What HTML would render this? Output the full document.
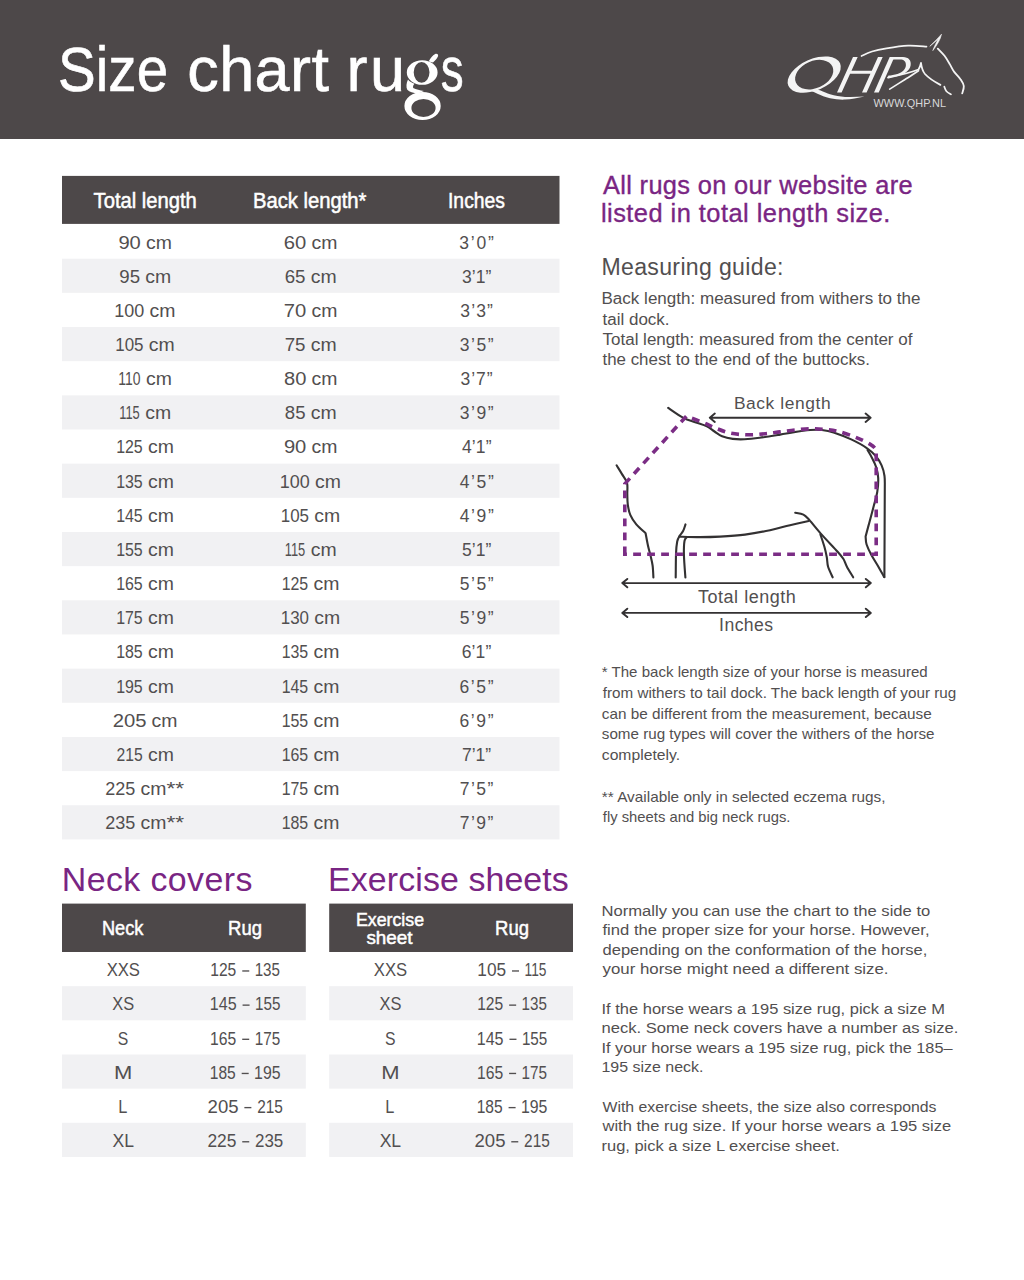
<!DOCTYPE html>
<html><head><meta charset="utf-8"><title>Size chart rugs</title>
<style>
html,body{margin:0;padding:0;background:#fff;}
body{width:1024px;height:1280px;overflow:hidden;font-family:"Liberation Sans", sans-serif;}
svg{display:block;}

</style></head><body>
<svg width="1024" height="1280" viewBox="0 0 1024 1280">
<rect x="0" y="0" width="1024" height="1280" fill="#ffffff"/>
<rect x="0" y="0" width="1024" height="139" fill="#4d4849"/>
<rect x="62" y="175.9" width="497.5" height="48.0" fill="#4d4849"/>
<rect x="62" y="258.70" width="497.5" height="34.16" fill="#f1f1f3"/>
<rect x="62" y="327.02" width="497.5" height="34.16" fill="#f1f1f3"/>
<rect x="62" y="395.34" width="497.5" height="34.16" fill="#f1f1f3"/>
<rect x="62" y="463.66" width="497.5" height="34.16" fill="#f1f1f3"/>
<rect x="62" y="531.98" width="497.5" height="34.16" fill="#f1f1f3"/>
<rect x="62" y="600.30" width="497.5" height="34.16" fill="#f1f1f3"/>
<rect x="62" y="668.62" width="497.5" height="34.16" fill="#f1f1f3"/>
<rect x="62" y="736.94" width="497.5" height="34.16" fill="#f1f1f3"/>
<rect x="62" y="805.26" width="497.5" height="34.16" fill="#f1f1f3"/>
<rect x="62" y="903.6" width="243.8" height="48.4" fill="#4d4849"/>
<rect x="62" y="986.16" width="243.8" height="34.16" fill="#f1f1f3"/>
<rect x="62" y="1054.48" width="243.8" height="34.16" fill="#f1f1f3"/>
<rect x="62" y="1122.80" width="243.8" height="34.16" fill="#f1f1f3"/>
<rect x="329.2" y="903.6" width="243.8" height="48.4" fill="#4d4849"/>
<rect x="329.2" y="986.16" width="243.8" height="34.16" fill="#f1f1f3"/>
<rect x="329.2" y="1054.48" width="243.8" height="34.16" fill="#f1f1f3"/>
<rect x="329.2" y="1122.80" width="243.8" height="34.16" fill="#f1f1f3"/>
<text x="58.10" y="91.00" textLength="110.00" lengthAdjust="spacingAndGlyphs" font-family='"Liberation Sans", sans-serif' font-size="63" font-weight="normal" fill="#ffffff" stroke="#ffffff" stroke-width="0.6">Size</text>
<text x="187.20" y="91.00" textLength="141.80" lengthAdjust="spacing" font-family='"Liberation Sans", sans-serif' font-size="63" font-weight="normal" fill="#ffffff" stroke="#ffffff" stroke-width="0.6">chart</text>
<text x="346.50" y="91.00" textLength="58.50" lengthAdjust="spacing" font-family='"Liberation Sans", sans-serif' font-size="63" font-weight="normal" fill="#ffffff" stroke="#ffffff" stroke-width="0.6">ru</text>
<text x="440.70" y="91.00" textLength="22.90" lengthAdjust="spacingAndGlyphs" font-family='"Liberation Sans", sans-serif' font-size="63" font-weight="normal" fill="#ffffff" stroke="#ffffff" stroke-width="0.6">s</text>
<text x="93.60" y="207.80" textLength="103.20" lengthAdjust="spacingAndGlyphs" font-family='"Liberation Sans", sans-serif' font-size="21.5" font-weight="normal" fill="#ffffff" stroke="#ffffff" stroke-width="0.5">Total length</text>
<text x="252.90" y="207.80" textLength="113.60" lengthAdjust="spacingAndGlyphs" font-family='"Liberation Sans", sans-serif' font-size="21.5" font-weight="normal" fill="#ffffff" stroke="#ffffff" stroke-width="0.5">Back length*</text>
<text x="448.00" y="207.80" textLength="57.00" lengthAdjust="spacingAndGlyphs" font-family='"Liberation Sans", sans-serif' font-size="21.5" font-weight="normal" fill="#ffffff" stroke="#ffffff" stroke-width="0.5">Inches</text>
<text x="602.90" y="194.20" textLength="309.70" lengthAdjust="spacing" font-family='"Liberation Sans", sans-serif' font-size="25.4" font-weight="normal" fill="#792583" stroke="#792583" stroke-width="0.35">All rugs on our website are</text>
<text x="600.90" y="221.60" textLength="289.50" lengthAdjust="spacing" font-family='"Liberation Sans", sans-serif' font-size="25.4" font-weight="normal" fill="#792583" stroke="#792583" stroke-width="0.35">listed in total length size.</text>
<text x="601.40" y="275.40" textLength="182.10" lengthAdjust="spacing" font-family='"Liberation Sans", sans-serif' font-size="23.1" font-weight="normal" fill="#524f50">Measuring guide:</text>
<text x="601.50" y="304.30" textLength="319.00" lengthAdjust="spacingAndGlyphs" font-family='"Liberation Sans", sans-serif' font-size="15.6" font-weight="normal" fill="#524f50">Back length: measured from withers to the</text>
<text x="602.50" y="324.80" textLength="67.10" lengthAdjust="spacingAndGlyphs" font-family='"Liberation Sans", sans-serif' font-size="15.6" font-weight="normal" fill="#524f50">tail dock.</text>
<text x="602.50" y="344.90" textLength="309.90" lengthAdjust="spacingAndGlyphs" font-family='"Liberation Sans", sans-serif' font-size="15.6" font-weight="normal" fill="#524f50">Total length: measured from the center of</text>
<text x="602.50" y="365.20" textLength="267.50" lengthAdjust="spacingAndGlyphs" font-family='"Liberation Sans", sans-serif' font-size="15.6" font-weight="normal" fill="#524f50">the chest to the end of the buttocks.</text>
<text x="733.90" y="409.40" textLength="96.70" lengthAdjust="spacing" font-family='"Liberation Sans", sans-serif' font-size="17.4" font-weight="normal" fill="#524f50">Back length</text>
<text x="698.00" y="602.80" textLength="97.80" lengthAdjust="spacing" font-family='"Liberation Sans", sans-serif' font-size="18" font-weight="normal" fill="#524f50">Total length</text>
<text x="719.10" y="630.70" textLength="54.00" lengthAdjust="spacing" font-family='"Liberation Sans", sans-serif' font-size="17.6" font-weight="normal" fill="#524f50">Inches</text>
<text x="601.80" y="677.40" textLength="325.90" lengthAdjust="spacingAndGlyphs" font-family='"Liberation Sans", sans-serif' font-size="14.4" font-weight="normal" fill="#524f50">* The back length size of your horse is measured</text>
<text x="602.80" y="697.60" textLength="353.40" lengthAdjust="spacingAndGlyphs" font-family='"Liberation Sans", sans-serif' font-size="14.4" font-weight="normal" fill="#524f50">from withers to tail dock. The back length of your rug</text>
<text x="601.80" y="718.50" textLength="330.00" lengthAdjust="spacingAndGlyphs" font-family='"Liberation Sans", sans-serif' font-size="14.4" font-weight="normal" fill="#524f50">can be different from the measurement, because</text>
<text x="601.80" y="739.00" textLength="332.70" lengthAdjust="spacingAndGlyphs" font-family='"Liberation Sans", sans-serif' font-size="14.4" font-weight="normal" fill="#524f50">some rug types will cover the withers of the horse</text>
<text x="601.80" y="759.50" textLength="78.20" lengthAdjust="spacingAndGlyphs" font-family='"Liberation Sans", sans-serif' font-size="14.4" font-weight="normal" fill="#524f50">completely.</text>
<text x="601.80" y="801.50" textLength="283.70" lengthAdjust="spacingAndGlyphs" font-family='"Liberation Sans", sans-serif' font-size="14.4" font-weight="normal" fill="#524f50">** Available only in selected eczema rugs,</text>
<text x="602.80" y="822.00" textLength="187.60" lengthAdjust="spacingAndGlyphs" font-family='"Liberation Sans", sans-serif' font-size="14.4" font-weight="normal" fill="#524f50">fly sheets and big neck rugs.</text>
<text x="601.50" y="916.10" textLength="328.80" lengthAdjust="spacingAndGlyphs" font-family='"Liberation Sans", sans-serif' font-size="15.4" font-weight="normal" fill="#524f50">Normally you can use the chart to the side to</text>
<text x="602.50" y="935.10" textLength="327.10" lengthAdjust="spacingAndGlyphs" font-family='"Liberation Sans", sans-serif' font-size="15.4" font-weight="normal" fill="#524f50">find the proper size for your horse.  However,</text>
<text x="602.50" y="954.50" textLength="324.80" lengthAdjust="spacingAndGlyphs" font-family='"Liberation Sans", sans-serif' font-size="15.4" font-weight="normal" fill="#524f50">depending on the conformation of the horse,</text>
<text x="602.50" y="974.10" textLength="286.00" lengthAdjust="spacingAndGlyphs" font-family='"Liberation Sans", sans-serif' font-size="15.4" font-weight="normal" fill="#524f50">your horse might need a different size.</text>
<text x="601.50" y="1013.60" textLength="343.50" lengthAdjust="spacingAndGlyphs" font-family='"Liberation Sans", sans-serif' font-size="15.4" font-weight="normal" fill="#524f50">If the horse wears a 195 size rug, pick a size M</text>
<text x="601.50" y="1033.20" textLength="356.80" lengthAdjust="spacingAndGlyphs" font-family='"Liberation Sans", sans-serif' font-size="15.4" font-weight="normal" fill="#524f50">neck. Some neck covers have a number as size.</text>
<text x="601.50" y="1052.80" textLength="351.00" lengthAdjust="spacingAndGlyphs" font-family='"Liberation Sans", sans-serif' font-size="15.4" font-weight="normal" fill="#524f50">If your horse wears a 195 size rug, pick the 185–</text>
<text x="601.50" y="1072.30" textLength="101.90" lengthAdjust="spacingAndGlyphs" font-family='"Liberation Sans", sans-serif' font-size="15.4" font-weight="normal" fill="#524f50">195 size neck.</text>
<text x="602.50" y="1111.90" textLength="334.00" lengthAdjust="spacingAndGlyphs" font-family='"Liberation Sans", sans-serif' font-size="15.4" font-weight="normal" fill="#524f50">With exercise sheets, the size also corresponds</text>
<text x="602.50" y="1131.30" textLength="348.70" lengthAdjust="spacingAndGlyphs" font-family='"Liberation Sans", sans-serif' font-size="15.4" font-weight="normal" fill="#524f50">with the rug size. If your horse wears a 195 size</text>
<text x="601.50" y="1151.40" textLength="238.30" lengthAdjust="spacingAndGlyphs" font-family='"Liberation Sans", sans-serif' font-size="15.4" font-weight="normal" fill="#524f50">rug, pick a size L exercise sheet.</text>
<text x="61.80" y="890.50" textLength="190.60" lengthAdjust="spacing" font-family='"Liberation Sans", sans-serif' font-size="33.9" font-weight="normal" fill="#792583">Neck covers</text>
<text x="328.10" y="890.50" textLength="240.70" lengthAdjust="spacing" font-family='"Liberation Sans", sans-serif' font-size="33.9" font-weight="normal" fill="#792583">Exercise sheets</text>
<text x="101.90" y="935.40" textLength="41.50" lengthAdjust="spacingAndGlyphs" font-family='"Liberation Sans", sans-serif' font-size="20.2" font-weight="normal" fill="#ffffff" stroke="#ffffff" stroke-width="0.5">Neck</text>
<text x="228.10" y="935.40" textLength="33.90" lengthAdjust="spacingAndGlyphs" font-family='"Liberation Sans", sans-serif' font-size="20.2" font-weight="normal" fill="#ffffff" stroke="#ffffff" stroke-width="0.5">Rug</text>
<text x="355.90" y="925.60" textLength="68.20" lengthAdjust="spacingAndGlyphs" font-family='"Liberation Sans", sans-serif' font-size="18.5" font-weight="normal" fill="#ffffff" stroke="#ffffff" stroke-width="0.5">Exercise</text>
<text x="366.40" y="943.90" textLength="46.20" lengthAdjust="spacingAndGlyphs" font-family='"Liberation Sans", sans-serif' font-size="18.5" font-weight="normal" fill="#ffffff" stroke="#ffffff" stroke-width="0.5">sheet</text>
<text x="495.10" y="935.40" textLength="33.90" lengthAdjust="spacingAndGlyphs" font-family='"Liberation Sans", sans-serif' font-size="20.2" font-weight="normal" fill="#ffffff" stroke="#ffffff" stroke-width="0.5">Rug</text>
<text x="118.40" y="248.50" textLength="22.43" lengthAdjust="spacingAndGlyphs" font-family="'Liberation Sans', sans-serif" font-size="17.5" fill="#524f50">90</text>
<text x="146.02" y="248.50" textLength="25.91" lengthAdjust="spacingAndGlyphs" font-family="'Liberation Sans', sans-serif" font-size="17.5" fill="#524f50">cm</text>
<text x="283.82" y="248.50" textLength="22.52" lengthAdjust="spacingAndGlyphs" font-family="'Liberation Sans', sans-serif" font-size="17.5" fill="#524f50">60</text>
<text x="311.52" y="248.50" textLength="25.91" lengthAdjust="spacingAndGlyphs" font-family="'Liberation Sans', sans-serif" font-size="17.5" fill="#524f50">cm</text>
<text x="459.28" y="248.50" textLength="34.61" lengthAdjust="spacing" font-family="'Liberation Sans', sans-serif" font-size="17.5" fill="#524f50">3’0”</text>
<text x="119.28" y="282.66" textLength="20.76" lengthAdjust="spacingAndGlyphs" font-family="'Liberation Sans', sans-serif" font-size="17.5" fill="#524f50">95</text>
<text x="145.22" y="282.66" textLength="25.91" lengthAdjust="spacingAndGlyphs" font-family="'Liberation Sans', sans-serif" font-size="17.5" fill="#524f50">cm</text>
<text x="284.70" y="282.66" textLength="20.84" lengthAdjust="spacingAndGlyphs" font-family="'Liberation Sans', sans-serif" font-size="17.5" fill="#524f50">65</text>
<text x="310.72" y="282.66" textLength="25.91" lengthAdjust="spacingAndGlyphs" font-family="'Liberation Sans', sans-serif" font-size="17.5" fill="#524f50">cm</text>
<text x="461.93" y="282.66" textLength="29.31" lengthAdjust="spacing" font-family="'Liberation Sans', sans-serif" font-size="17.5" fill="#524f50">3’1”</text>
<text x="114.38" y="316.82" textLength="29.97" lengthAdjust="spacingAndGlyphs" font-family="'Liberation Sans', sans-serif" font-size="17.5" fill="#524f50">100</text>
<text x="149.62" y="316.82" textLength="25.91" lengthAdjust="spacingAndGlyphs" font-family="'Liberation Sans', sans-serif" font-size="17.5" fill="#524f50">cm</text>
<text x="283.81" y="316.82" textLength="22.53" lengthAdjust="spacingAndGlyphs" font-family="'Liberation Sans', sans-serif" font-size="17.5" fill="#524f50">70</text>
<text x="311.52" y="316.82" textLength="25.91" lengthAdjust="spacingAndGlyphs" font-family="'Liberation Sans', sans-serif" font-size="17.5" fill="#524f50">cm</text>
<text x="460.33" y="316.82" textLength="32.51" lengthAdjust="spacing" font-family="'Liberation Sans', sans-serif" font-size="17.5" fill="#524f50">3’3”</text>
<text x="115.26" y="350.98" textLength="28.30" lengthAdjust="spacingAndGlyphs" font-family="'Liberation Sans', sans-serif" font-size="17.5" fill="#524f50">105</text>
<text x="148.82" y="350.98" textLength="25.91" lengthAdjust="spacingAndGlyphs" font-family="'Liberation Sans', sans-serif" font-size="17.5" fill="#524f50">cm</text>
<text x="284.69" y="350.98" textLength="20.85" lengthAdjust="spacingAndGlyphs" font-family="'Liberation Sans', sans-serif" font-size="17.5" fill="#524f50">75</text>
<text x="310.72" y="350.98" textLength="25.91" lengthAdjust="spacingAndGlyphs" font-family="'Liberation Sans', sans-serif" font-size="17.5" fill="#524f50">cm</text>
<text x="459.68" y="350.98" textLength="33.81" lengthAdjust="spacing" font-family="'Liberation Sans', sans-serif" font-size="17.5" fill="#524f50">3’5”</text>
<text x="118.33" y="385.14" textLength="22.24" lengthAdjust="spacingAndGlyphs" font-family="'Liberation Sans', sans-serif" font-size="17.5" fill="#524f50">110</text>
<text x="146.02" y="385.14" textLength="25.91" lengthAdjust="spacingAndGlyphs" font-family="'Liberation Sans', sans-serif" font-size="17.5" fill="#524f50">cm</text>
<text x="283.98" y="385.14" textLength="22.36" lengthAdjust="spacingAndGlyphs" font-family="'Liberation Sans', sans-serif" font-size="17.5" fill="#524f50">80</text>
<text x="311.52" y="385.14" textLength="25.91" lengthAdjust="spacingAndGlyphs" font-family="'Liberation Sans', sans-serif" font-size="17.5" fill="#524f50">cm</text>
<text x="460.58" y="385.14" textLength="32.01" lengthAdjust="spacing" font-family="'Liberation Sans', sans-serif" font-size="17.5" fill="#524f50">3’7”</text>
<text x="119.21" y="419.30" textLength="20.56" lengthAdjust="spacingAndGlyphs" font-family="'Liberation Sans', sans-serif" font-size="17.5" fill="#524f50">115</text>
<text x="145.22" y="419.30" textLength="25.91" lengthAdjust="spacingAndGlyphs" font-family="'Liberation Sans', sans-serif" font-size="17.5" fill="#524f50">cm</text>
<text x="284.84" y="419.30" textLength="20.69" lengthAdjust="spacingAndGlyphs" font-family="'Liberation Sans', sans-serif" font-size="17.5" fill="#524f50">85</text>
<text x="310.72" y="419.30" textLength="25.91" lengthAdjust="spacingAndGlyphs" font-family="'Liberation Sans', sans-serif" font-size="17.5" fill="#524f50">cm</text>
<text x="459.68" y="419.30" textLength="33.81" lengthAdjust="spacing" font-family="'Liberation Sans', sans-serif" font-size="17.5" fill="#524f50">3’9”</text>
<text x="116.14" y="453.46" textLength="26.58" lengthAdjust="spacingAndGlyphs" font-family="'Liberation Sans', sans-serif" font-size="17.5" fill="#524f50">125</text>
<text x="148.02" y="453.46" textLength="25.91" lengthAdjust="spacingAndGlyphs" font-family="'Liberation Sans', sans-serif" font-size="17.5" fill="#524f50">cm</text>
<text x="283.90" y="453.46" textLength="22.43" lengthAdjust="spacingAndGlyphs" font-family="'Liberation Sans', sans-serif" font-size="17.5" fill="#524f50">90</text>
<text x="311.52" y="453.46" textLength="25.91" lengthAdjust="spacingAndGlyphs" font-family="'Liberation Sans', sans-serif" font-size="17.5" fill="#524f50">cm</text>
<text x="461.95" y="453.46" textLength="29.54" lengthAdjust="spacing" font-family="'Liberation Sans', sans-serif" font-size="17.5" fill="#524f50">4’1”</text>
<text x="116.14" y="487.62" textLength="26.58" lengthAdjust="spacingAndGlyphs" font-family="'Liberation Sans', sans-serif" font-size="17.5" fill="#524f50">135</text>
<text x="148.02" y="487.62" textLength="25.91" lengthAdjust="spacingAndGlyphs" font-family="'Liberation Sans', sans-serif" font-size="17.5" fill="#524f50">cm</text>
<text x="279.88" y="487.62" textLength="29.97" lengthAdjust="spacingAndGlyphs" font-family="'Liberation Sans', sans-serif" font-size="17.5" fill="#524f50">100</text>
<text x="315.12" y="487.62" textLength="25.91" lengthAdjust="spacingAndGlyphs" font-family="'Liberation Sans', sans-serif" font-size="17.5" fill="#524f50">cm</text>
<text x="459.70" y="487.62" textLength="34.04" lengthAdjust="spacing" font-family="'Liberation Sans', sans-serif" font-size="17.5" fill="#524f50">4’5”</text>
<text x="116.14" y="521.78" textLength="26.58" lengthAdjust="spacingAndGlyphs" font-family="'Liberation Sans', sans-serif" font-size="17.5" fill="#524f50">145</text>
<text x="148.02" y="521.78" textLength="25.91" lengthAdjust="spacingAndGlyphs" font-family="'Liberation Sans', sans-serif" font-size="17.5" fill="#524f50">cm</text>
<text x="280.76" y="521.78" textLength="28.30" lengthAdjust="spacingAndGlyphs" font-family="'Liberation Sans', sans-serif" font-size="17.5" fill="#524f50">105</text>
<text x="314.32" y="521.78" textLength="25.91" lengthAdjust="spacingAndGlyphs" font-family="'Liberation Sans', sans-serif" font-size="17.5" fill="#524f50">cm</text>
<text x="459.70" y="521.78" textLength="34.04" lengthAdjust="spacing" font-family="'Liberation Sans', sans-serif" font-size="17.5" fill="#524f50">4’9”</text>
<text x="116.14" y="555.94" textLength="26.58" lengthAdjust="spacingAndGlyphs" font-family="'Liberation Sans', sans-serif" font-size="17.5" fill="#524f50">155</text>
<text x="148.02" y="555.94" textLength="25.91" lengthAdjust="spacingAndGlyphs" font-family="'Liberation Sans', sans-serif" font-size="17.5" fill="#524f50">cm</text>
<text x="284.71" y="555.94" textLength="20.56" lengthAdjust="spacingAndGlyphs" font-family="'Liberation Sans', sans-serif" font-size="17.5" fill="#524f50">115</text>
<text x="310.72" y="555.94" textLength="25.91" lengthAdjust="spacingAndGlyphs" font-family="'Liberation Sans', sans-serif" font-size="17.5" fill="#524f50">cm</text>
<text x="461.90" y="555.94" textLength="29.34" lengthAdjust="spacing" font-family="'Liberation Sans', sans-serif" font-size="17.5" fill="#524f50">5’1”</text>
<text x="116.14" y="590.10" textLength="26.58" lengthAdjust="spacingAndGlyphs" font-family="'Liberation Sans', sans-serif" font-size="17.5" fill="#524f50">165</text>
<text x="148.02" y="590.10" textLength="25.91" lengthAdjust="spacingAndGlyphs" font-family="'Liberation Sans', sans-serif" font-size="17.5" fill="#524f50">cm</text>
<text x="281.64" y="590.10" textLength="26.58" lengthAdjust="spacingAndGlyphs" font-family="'Liberation Sans', sans-serif" font-size="17.5" fill="#524f50">125</text>
<text x="313.52" y="590.10" textLength="25.91" lengthAdjust="spacingAndGlyphs" font-family="'Liberation Sans', sans-serif" font-size="17.5" fill="#524f50">cm</text>
<text x="459.65" y="590.10" textLength="33.84" lengthAdjust="spacing" font-family="'Liberation Sans', sans-serif" font-size="17.5" fill="#524f50">5’5”</text>
<text x="116.14" y="624.26" textLength="26.58" lengthAdjust="spacingAndGlyphs" font-family="'Liberation Sans', sans-serif" font-size="17.5" fill="#524f50">175</text>
<text x="148.02" y="624.26" textLength="25.91" lengthAdjust="spacingAndGlyphs" font-family="'Liberation Sans', sans-serif" font-size="17.5" fill="#524f50">cm</text>
<text x="280.76" y="624.26" textLength="28.25" lengthAdjust="spacingAndGlyphs" font-family="'Liberation Sans', sans-serif" font-size="17.5" fill="#524f50">130</text>
<text x="314.32" y="624.26" textLength="25.91" lengthAdjust="spacingAndGlyphs" font-family="'Liberation Sans', sans-serif" font-size="17.5" fill="#524f50">cm</text>
<text x="459.65" y="624.26" textLength="33.84" lengthAdjust="spacing" font-family="'Liberation Sans', sans-serif" font-size="17.5" fill="#524f50">5’9”</text>
<text x="116.14" y="658.42" textLength="26.58" lengthAdjust="spacingAndGlyphs" font-family="'Liberation Sans', sans-serif" font-size="17.5" fill="#524f50">185</text>
<text x="148.02" y="658.42" textLength="25.91" lengthAdjust="spacingAndGlyphs" font-family="'Liberation Sans', sans-serif" font-size="17.5" fill="#524f50">cm</text>
<text x="281.64" y="658.42" textLength="26.58" lengthAdjust="spacingAndGlyphs" font-family="'Liberation Sans', sans-serif" font-size="17.5" fill="#524f50">135</text>
<text x="313.52" y="658.42" textLength="25.91" lengthAdjust="spacingAndGlyphs" font-family="'Liberation Sans', sans-serif" font-size="17.5" fill="#524f50">cm</text>
<text x="461.71" y="658.42" textLength="29.53" lengthAdjust="spacing" font-family="'Liberation Sans', sans-serif" font-size="17.5" fill="#524f50">6’1”</text>
<text x="116.14" y="692.58" textLength="26.58" lengthAdjust="spacingAndGlyphs" font-family="'Liberation Sans', sans-serif" font-size="17.5" fill="#524f50">195</text>
<text x="148.02" y="692.58" textLength="25.91" lengthAdjust="spacingAndGlyphs" font-family="'Liberation Sans', sans-serif" font-size="17.5" fill="#524f50">cm</text>
<text x="281.64" y="692.58" textLength="26.58" lengthAdjust="spacingAndGlyphs" font-family="'Liberation Sans', sans-serif" font-size="17.5" fill="#524f50">145</text>
<text x="313.52" y="692.58" textLength="25.91" lengthAdjust="spacingAndGlyphs" font-family="'Liberation Sans', sans-serif" font-size="17.5" fill="#524f50">cm</text>
<text x="459.46" y="692.58" textLength="34.03" lengthAdjust="spacing" font-family="'Liberation Sans', sans-serif" font-size="17.5" fill="#524f50">6’5”</text>
<text x="112.73" y="726.74" textLength="33.77" lengthAdjust="spacingAndGlyphs" font-family="'Liberation Sans', sans-serif" font-size="17.5" fill="#524f50">205</text>
<text x="151.62" y="726.74" textLength="25.91" lengthAdjust="spacingAndGlyphs" font-family="'Liberation Sans', sans-serif" font-size="17.5" fill="#524f50">cm</text>
<text x="281.64" y="726.74" textLength="26.58" lengthAdjust="spacingAndGlyphs" font-family="'Liberation Sans', sans-serif" font-size="17.5" fill="#524f50">155</text>
<text x="313.52" y="726.74" textLength="25.91" lengthAdjust="spacingAndGlyphs" font-family="'Liberation Sans', sans-serif" font-size="17.5" fill="#524f50">cm</text>
<text x="459.46" y="726.74" textLength="34.03" lengthAdjust="spacing" font-family="'Liberation Sans', sans-serif" font-size="17.5" fill="#524f50">6’9”</text>
<text x="116.56" y="760.90" textLength="26.15" lengthAdjust="spacingAndGlyphs" font-family="'Liberation Sans', sans-serif" font-size="17.5" fill="#524f50">215</text>
<text x="148.02" y="760.90" textLength="25.91" lengthAdjust="spacingAndGlyphs" font-family="'Liberation Sans', sans-serif" font-size="17.5" fill="#524f50">cm</text>
<text x="281.64" y="760.90" textLength="26.58" lengthAdjust="spacingAndGlyphs" font-family="'Liberation Sans', sans-serif" font-size="17.5" fill="#524f50">165</text>
<text x="313.52" y="760.90" textLength="25.91" lengthAdjust="spacingAndGlyphs" font-family="'Liberation Sans', sans-serif" font-size="17.5" fill="#524f50">cm</text>
<text x="461.95" y="760.90" textLength="29.04" lengthAdjust="spacing" font-family="'Liberation Sans', sans-serif" font-size="17.5" fill="#524f50">7’1”</text>
<text x="105.29" y="795.06" textLength="30.06" lengthAdjust="spacingAndGlyphs" font-family="'Liberation Sans', sans-serif" font-size="17.5" fill="#524f50">225</text>
<text x="140.57" y="795.06" textLength="25.91" lengthAdjust="spacingAndGlyphs" font-family="'Liberation Sans', sans-serif" font-size="17.5" fill="#524f50">cm</text>
<text x="166.43" y="795.06" textLength="17.72" lengthAdjust="spacingAndGlyphs" font-family="'Liberation Sans', sans-serif" font-size="17.5" fill="#524f50">**</text>
<text x="281.64" y="795.06" textLength="26.58" lengthAdjust="spacingAndGlyphs" font-family="'Liberation Sans', sans-serif" font-size="17.5" fill="#524f50">175</text>
<text x="313.52" y="795.06" textLength="25.91" lengthAdjust="spacingAndGlyphs" font-family="'Liberation Sans', sans-serif" font-size="17.5" fill="#524f50">cm</text>
<text x="459.70" y="795.06" textLength="33.54" lengthAdjust="spacing" font-family="'Liberation Sans', sans-serif" font-size="17.5" fill="#524f50">7’5”</text>
<text x="105.29" y="829.22" textLength="30.06" lengthAdjust="spacingAndGlyphs" font-family="'Liberation Sans', sans-serif" font-size="17.5" fill="#524f50">235</text>
<text x="140.57" y="829.22" textLength="25.91" lengthAdjust="spacingAndGlyphs" font-family="'Liberation Sans', sans-serif" font-size="17.5" fill="#524f50">cm</text>
<text x="166.43" y="829.22" textLength="17.72" lengthAdjust="spacingAndGlyphs" font-family="'Liberation Sans', sans-serif" font-size="17.5" fill="#524f50">**</text>
<text x="281.64" y="829.22" textLength="26.58" lengthAdjust="spacingAndGlyphs" font-family="'Liberation Sans', sans-serif" font-size="17.5" fill="#524f50">185</text>
<text x="313.52" y="829.22" textLength="25.91" lengthAdjust="spacingAndGlyphs" font-family="'Liberation Sans', sans-serif" font-size="17.5" fill="#524f50">cm</text>
<text x="459.70" y="829.22" textLength="33.54" lengthAdjust="spacing" font-family="'Liberation Sans', sans-serif" font-size="17.5" fill="#524f50">7’9”</text>
<text x="106.63" y="976.20" textLength="33.34" lengthAdjust="spacingAndGlyphs" font-family="'Liberation Sans', sans-serif" font-size="17.5" fill="#524f50">XXS</text>
<text x="210.26" y="976.20" textLength="26.05" lengthAdjust="spacingAndGlyphs" font-family="'Liberation Sans', sans-serif" font-size="17.5" fill="#524f50">125</text>
<rect x="242.26" y="970.30" width="7" height="1.35" fill="#524f50"/>
<text x="254.70" y="976.20" textLength="25.28" lengthAdjust="spacingAndGlyphs" font-family="'Liberation Sans', sans-serif" font-size="17.5" fill="#524f50">135</text>
<text x="112.33" y="1010.36" textLength="21.92" lengthAdjust="spacingAndGlyphs" font-family="'Liberation Sans', sans-serif" font-size="17.5" fill="#524f50">XS</text>
<text x="209.83" y="1010.36" textLength="26.82" lengthAdjust="spacingAndGlyphs" font-family="'Liberation Sans', sans-serif" font-size="17.5" fill="#524f50">145</text>
<rect x="242.57" y="1004.46" width="7" height="1.35" fill="#524f50"/>
<text x="255.01" y="1010.36" textLength="25.37" lengthAdjust="spacingAndGlyphs" font-family="'Liberation Sans', sans-serif" font-size="17.5" fill="#524f50">155</text>
<text x="117.83" y="1044.52" textLength="10.54" lengthAdjust="spacingAndGlyphs" font-family="'Liberation Sans', sans-serif" font-size="17.5" fill="#524f50">S</text>
<text x="210.11" y="1044.52" textLength="26.16" lengthAdjust="spacingAndGlyphs" font-family="'Liberation Sans', sans-serif" font-size="17.5" fill="#524f50">165</text>
<rect x="242.21" y="1038.62" width="7" height="1.35" fill="#524f50"/>
<text x="254.65" y="1044.52" textLength="25.50" lengthAdjust="spacingAndGlyphs" font-family="'Liberation Sans', sans-serif" font-size="17.5" fill="#524f50">175</text>
<text x="113.95" y="1078.68" textLength="18.31" lengthAdjust="spacingAndGlyphs" font-family="'Liberation Sans', sans-serif" font-size="17.5" fill="#524f50">M</text>
<text x="209.76" y="1078.68" textLength="25.98" lengthAdjust="spacingAndGlyphs" font-family="'Liberation Sans', sans-serif" font-size="17.5" fill="#524f50">185</text>
<rect x="241.69" y="1072.78" width="7" height="1.35" fill="#524f50"/>
<text x="254.09" y="1078.68" textLength="26.43" lengthAdjust="spacingAndGlyphs" font-family="'Liberation Sans', sans-serif" font-size="17.5" fill="#524f50">195</text>
<text x="118.16" y="1112.84" textLength="9.08" lengthAdjust="spacingAndGlyphs" font-family="'Liberation Sans', sans-serif" font-size="17.5" fill="#524f50">L</text>
<text x="207.62" y="1112.84" textLength="30.93" lengthAdjust="spacingAndGlyphs" font-family="'Liberation Sans', sans-serif" font-size="17.5" fill="#524f50">205</text>
<rect x="244.37" y="1106.94" width="7" height="1.35" fill="#524f50"/>
<text x="257.19" y="1112.84" textLength="25.70" lengthAdjust="spacingAndGlyphs" font-family="'Liberation Sans', sans-serif" font-size="17.5" fill="#524f50">215</text>
<text x="112.46" y="1147.00" textLength="21.48" lengthAdjust="spacingAndGlyphs" font-family="'Liberation Sans', sans-serif" font-size="17.5" fill="#524f50">XL</text>
<text x="207.38" y="1147.00" textLength="28.99" lengthAdjust="spacingAndGlyphs" font-family="'Liberation Sans', sans-serif" font-size="17.5" fill="#524f50">225</text>
<rect x="242.24" y="1141.10" width="7" height="1.35" fill="#524f50"/>
<text x="254.99" y="1147.00" textLength="28.27" lengthAdjust="spacingAndGlyphs" font-family="'Liberation Sans', sans-serif" font-size="17.5" fill="#524f50">235</text>
<text x="373.83" y="976.20" textLength="33.34" lengthAdjust="spacingAndGlyphs" font-family="'Liberation Sans', sans-serif" font-size="17.5" fill="#524f50">XXS</text>
<text x="477.34" y="976.20" textLength="28.79" lengthAdjust="spacingAndGlyphs" font-family="'Liberation Sans', sans-serif" font-size="17.5" fill="#524f50">105</text>
<rect x="512.00" y="970.30" width="7" height="1.35" fill="#524f50"/>
<text x="524.60" y="976.20" textLength="21.90" lengthAdjust="spacingAndGlyphs" font-family="'Liberation Sans', sans-serif" font-size="17.5" fill="#524f50">115</text>
<text x="379.53" y="1010.36" textLength="21.92" lengthAdjust="spacingAndGlyphs" font-family="'Liberation Sans', sans-serif" font-size="17.5" fill="#524f50">XS</text>
<text x="477.16" y="1010.36" textLength="26.05" lengthAdjust="spacingAndGlyphs" font-family="'Liberation Sans', sans-serif" font-size="17.5" fill="#524f50">125</text>
<rect x="509.16" y="1004.46" width="7" height="1.35" fill="#524f50"/>
<text x="521.60" y="1010.36" textLength="25.28" lengthAdjust="spacingAndGlyphs" font-family="'Liberation Sans', sans-serif" font-size="17.5" fill="#524f50">135</text>
<text x="385.03" y="1044.52" textLength="10.54" lengthAdjust="spacingAndGlyphs" font-family="'Liberation Sans', sans-serif" font-size="17.5" fill="#524f50">S</text>
<text x="476.73" y="1044.52" textLength="26.82" lengthAdjust="spacingAndGlyphs" font-family="'Liberation Sans', sans-serif" font-size="17.5" fill="#524f50">145</text>
<rect x="509.47" y="1038.62" width="7" height="1.35" fill="#524f50"/>
<text x="521.91" y="1044.52" textLength="25.37" lengthAdjust="spacingAndGlyphs" font-family="'Liberation Sans', sans-serif" font-size="17.5" fill="#524f50">155</text>
<text x="381.15" y="1078.68" textLength="18.31" lengthAdjust="spacingAndGlyphs" font-family="'Liberation Sans', sans-serif" font-size="17.5" fill="#524f50">M</text>
<text x="477.01" y="1078.68" textLength="26.16" lengthAdjust="spacingAndGlyphs" font-family="'Liberation Sans', sans-serif" font-size="17.5" fill="#524f50">165</text>
<rect x="509.11" y="1072.78" width="7" height="1.35" fill="#524f50"/>
<text x="521.55" y="1078.68" textLength="25.50" lengthAdjust="spacingAndGlyphs" font-family="'Liberation Sans', sans-serif" font-size="17.5" fill="#524f50">175</text>
<text x="385.36" y="1112.84" textLength="9.08" lengthAdjust="spacingAndGlyphs" font-family="'Liberation Sans', sans-serif" font-size="17.5" fill="#524f50">L</text>
<text x="476.66" y="1112.84" textLength="25.98" lengthAdjust="spacingAndGlyphs" font-family="'Liberation Sans', sans-serif" font-size="17.5" fill="#524f50">185</text>
<rect x="508.59" y="1106.94" width="7" height="1.35" fill="#524f50"/>
<text x="520.99" y="1112.84" textLength="26.43" lengthAdjust="spacingAndGlyphs" font-family="'Liberation Sans', sans-serif" font-size="17.5" fill="#524f50">195</text>
<text x="379.66" y="1147.00" textLength="21.48" lengthAdjust="spacingAndGlyphs" font-family="'Liberation Sans', sans-serif" font-size="17.5" fill="#524f50">XL</text>
<text x="474.52" y="1147.00" textLength="30.93" lengthAdjust="spacingAndGlyphs" font-family="'Liberation Sans', sans-serif" font-size="17.5" fill="#524f50">205</text>
<rect x="511.27" y="1141.10" width="7" height="1.35" fill="#524f50"/>
<text x="524.09" y="1147.00" textLength="25.70" lengthAdjust="spacingAndGlyphs" font-family="'Liberation Sans', sans-serif" font-size="17.5" fill="#524f50">215</text>
<g fill="#ffffff">
<path fill-rule="evenodd" d="M406.8 72.5 A15.4 12.3 0 1 0 437.6 72.5 A15.4 12.3 0 1 0 406.8 72.5 Z M413.7 72.3 A7.9 10.4 0 1 1 429.5 72.3 A7.9 10.4 0 1 1 413.7 72.3 Z"/>
<path fill-rule="evenodd" d="M404.4 106 A18.15 14.05 0 1 0 440.7 106 A18.15 14.05 0 1 0 404.4 106 Z M411.4 107.9 A12.1 9 0 1 1 435.6 107.9 A12.1 9 0 1 1 411.4 107.9 Z"/>
<path d="M428.8 61.2 C430.5 58.2 432.5 55.5 435.2 54 C436.8 53.4 438.4 54.2 438.1 56 C437.3 58.4 435 60.6 433 62.6 C431.5 62.3 430 61.8 428.8 61.2 Z"/>
<path d="M408 79.5 C409.5 81.5 412 83 414.5 83.8 C413.2 85 412.8 86.5 413.2 88 C416 89.3 420 90.2 424 91 L418 93.5 C413 93 409.5 92 407.3 89.8 C406 87.5 406.2 83 408 79.5 Z"/>
</g>

<path d="M668.2 407.9 C670.7 409.6 678.9 415.5 683.4 417.9 C687.9 420.3 691.3 420.8 695.2 422.2 C699.1 423.6 703.7 424.8 706.9 426.4 C710.1 427.9 712.0 429.9 714.5 431.5 C717.0 433.1 719.1 435.1 722.1 436.3 C725.1 437.5 729.0 438.4 732.7 438.9 C736.4 439.4 739.9 439.5 744.4 439.3 C748.9 439.1 753.7 438.6 759.6 437.8 C765.5 437.0 774.5 435.5 780.0 434.6 C785.5 433.7 787.6 433.2 792.6 432.4 C797.6 431.6 805.3 430.4 810.2 430.0 C815.1 429.6 818.0 429.6 821.9 430.0 C825.8 430.4 828.7 430.8 833.6 432.4 C838.5 434.0 845.7 436.8 851.2 439.4 C856.7 442.0 862.3 445.0 866.4 447.8 C870.5 450.6 873.3 453.1 875.8 456.0 C878.3 458.9 880.1 462.1 881.6 465.4 C883.1 468.7 884.0 472.4 884.5 476.0 C885.0 479.6 884.8 485.2 884.8 487.0 L884.4 577.3" fill="none" stroke="#333132" stroke-width="2.1" stroke-linecap="round" stroke-linejoin="round" />
<path d="M867.6 450.2 C868.4 451.6 870.8 455.5 872.3 458.4 C873.8 461.3 875.4 464.4 876.4 467.7 C877.4 471.0 878.1 474.0 878.2 478.0 C878.4 482.0 878.0 487.1 877.3 491.7 C876.6 496.3 875.2 500.5 873.8 505.8 C872.4 511.1 870.5 518.3 869.1 523.4 C867.7 528.5 866.2 534.3 865.6 536.5 C865.8 537.8 865.6 541.4 866.6 544.5 C867.6 547.6 869.4 551.3 871.4 555.0 C873.4 558.7 876.3 563.0 878.4 566.7 C880.5 570.4 883.2 575.3 884.2 577.0" fill="none" stroke="#333132" stroke-width="2.1" stroke-linecap="round" stroke-linejoin="round" />
<path d="M616.6 465.3 C617.5 466.8 620.3 471.2 622.0 474.1 C623.7 477.0 626.1 479.5 627.0 482.8 C627.9 486.1 627.2 490.2 627.3 493.8 C627.4 497.4 627.3 501.1 627.8 504.7 C628.3 508.3 629.0 511.9 630.4 515.2 C631.8 518.5 633.8 521.4 636.3 524.4 C638.8 527.4 644.0 531.7 645.6 533.2 C646.0 535.2 647.1 541.5 647.9 545.2 C648.7 548.9 649.7 552.1 650.5 555.5 C651.3 558.9 652.1 561.8 652.6 565.5 C653.1 569.2 653.3 575.5 653.4 577.5" fill="none" stroke="#333132" stroke-width="2.1" stroke-linecap="round" stroke-linejoin="round" />
<path d="M685.5 524.4 C685.1 525.5 684.1 529.1 683.1 531.0 C682.1 532.9 680.8 533.9 679.8 535.6 C678.8 537.4 677.8 538.4 677.2 541.5 C676.6 544.6 676.2 548.0 676.0 554.0 C675.8 560.0 675.8 573.6 675.7 577.5" fill="none" stroke="#333132" stroke-width="2.1" stroke-linecap="round" stroke-linejoin="round" />
<path d="M686.6 537.5 C686.2 538.1 685.0 538.2 684.5 541.0 C684.0 543.8 683.8 547.9 683.9 554.0 C684.0 560.1 685.1 573.6 685.4 577.5" fill="none" stroke="#333132" stroke-width="2.1" stroke-linecap="round" stroke-linejoin="round" />
<path d="M679.5 536.6 C682.9 536.7 693.2 537.1 700.0 537.1 C706.8 537.1 712.5 537.0 720.0 536.6 C727.5 536.2 736.7 535.7 745.0 534.6 C753.3 533.5 762.5 531.8 770.0 530.2 C777.5 528.6 783.5 526.7 790.0 525.2 C796.5 523.7 805.6 521.7 808.7 521.0" fill="none" stroke="#333132" stroke-width="2.1" stroke-linecap="round" stroke-linejoin="round" />
<path d="M795.2 512.8 C796.6 513.1 801.0 513.4 803.4 514.6 C805.8 515.8 808.3 518.9 809.3 519.8 C811.2 522.1 816.3 528.6 821.0 533.9 C825.7 539.2 833.7 547.4 837.4 551.5 C841.1 555.6 841.7 556.3 843.3 558.8 C844.9 561.3 845.2 563.6 846.9 566.7 C848.5 569.8 852.2 575.5 853.2 577.3" fill="none" stroke="#333132" stroke-width="2.1" stroke-linecap="round" stroke-linejoin="round" />
<path d="M820.4 534.5 C821.1 536.5 823.3 543.0 824.4 546.8 C825.5 550.6 826.2 554.0 826.8 557.3 C827.4 560.6 827.1 563.4 828.1 566.7 C829.1 570.0 831.9 575.5 832.7 577.3" fill="none" stroke="#333132" stroke-width="2.1" stroke-linecap="round" stroke-linejoin="round" />
<path d="M624.8 554.2 L624.8 483.9 L686.4 416.1 C689.4 417.3 699.5 421.1 704.5 423.1 C709.5 425.2 712.0 426.7 716.3 428.4 C720.6 430.1 725.0 432.0 730.3 433.1 C735.6 434.2 742.0 434.7 747.9 434.8 C753.8 434.9 760.1 434.2 765.5 433.7 C770.9 433.2 775.1 432.5 780.0 431.9 C784.9 431.3 790.0 430.5 795.0 430.0 C800.0 429.5 805.3 428.9 810.2 428.8 C815.1 428.7 819.5 428.9 824.2 429.3 C828.9 429.7 832.8 430.0 838.3 431.4 C843.8 432.8 851.5 435.6 857.0 437.9 C862.5 440.1 867.9 442.9 871.1 444.9 C874.3 446.8 875.4 448.8 876.2 449.6 L876.2 554.2 Z" fill="none" stroke="#7b2d85" stroke-width="3.6" stroke-dasharray="7.8 6.2" stroke-linejoin="miter"/>
<path d="M709.8 417.8 L870.6 417.8 M714.8 413.6 L709.8 417.8 L714.8 422.0 M865.6 413.6 L870.6 417.8 L865.6 422.0" fill="none" stroke="#333132" stroke-width="1.9" stroke-linecap="round" stroke-linejoin="round"/>
<path d="M622.3 583.1 L870.8 583.1 M627.3 578.9 L622.3 583.1 L627.3 587.3000000000001 M865.8 578.9 L870.8 583.1 L865.8 587.3000000000001" fill="none" stroke="#333132" stroke-width="1.9" stroke-linecap="round" stroke-linejoin="round"/>
<path d="M622.3 612.9 L870.8 612.9 M627.3 608.6999999999999 L622.3 612.9 L627.3 617.1 M865.8 608.6999999999999 L870.8 612.9 L865.8 617.1" fill="none" stroke="#333132" stroke-width="1.9" stroke-linecap="round" stroke-linejoin="round"/>
<g transform="translate(814.2 74.6) rotate(-23.5)"><path d="M-28.2 0 A28.2 15.6 0 1 0 28.2 0 A28.2 15.6 0 1 0 -28.2 0 Z M-20.0 0 A20.0 13.6 0 1 1 20.0 0 A20.0 13.6 0 1 1 -20.0 0 Z" fill="#f4f4f4" fill-rule="evenodd"/></g>
<path d="M811 90.8 C814 90 817 89.8 820 90.2 C824 91.8 827 93.2 830 94.3 C835 95.8 840 96.6 845 96.9 C852 97.1 858 96.9 864.5 96.5 C858 97.8 851 99.2 845 99.6 C840 99.8 835 99.3 830 98.2 C825 97 821 95.5 818 94 C815.5 92.9 813 91.9 811 90.8 Z" fill="#f4f4f4"/>
<path d="M853 57 L857.7 57 L841.6 92.6 L837 92.6 Z M878 57 L882.7 57 L866.6 92.6 L862 92.6 Z M851.3 70.7 L872.2 70.7 L870.8 73.8 L849.9 73.8 Z" fill="#f4f4f4"/>
<path d="M889.7 57 L894.4 57 L878.75 92.6 L874 92.6 Z" fill="#f4f4f4"/>
<path d="M892 57 L903 57 C908.5 57 911.5 60.5 910.6 65.5 C909.6 71 904 74.5 897 76.2 C893 77.1 889.5 77.5 887.5 77.6 L888.5 75.6 C891 75.4 894.5 74.8 897.5 73.9 C902.5 72.3 905.7 69.3 905.9 65.3 C906.1 61.6 903.8 59.6 900 59.6 L893 59.6 Z" fill="#f4f4f4"/>
<path d="M861.5 56.0 C863.2 55.2 867.8 52.8 872.0 51.5 C876.2 50.2 880.5 49.3 886.5 48.3 C892.5 47.3 901.3 45.9 908.0 45.6 C914.7 45.3 923.4 46.4 926.5 46.6" fill="none" stroke="#f4f4f4" stroke-width="1.7" stroke-linecap="round"/>
<path d="M929.8 46.3 C934 42 938 38.5 941.5 34.2 C940.5 39.5 937 45 932.8 50.6 C934.5 46 936.5 42 938.5 38.8 C935.5 41.5 932.5 44 929.8 46.3 Z" fill="#f4f4f4" stroke="#f4f4f4" stroke-width="0.6"/>
<path d="M937.8 48.6 C938.9 49.8 942.5 53.2 944.5 55.8 C946.5 58.4 948.3 61.7 949.9 64.4 C951.5 67.1 952.4 69.4 954.2 71.9 C956.0 74.4 959.0 77.1 960.6 79.4 C962.2 81.8 963.5 83.7 963.8 86.0 C964.1 88.3 962.5 92.2 962.2 93.4" fill="none" stroke="#f4f4f4" stroke-width="1.8" stroke-linecap="round"/>
<path d="M944.3 86.6 C944.6 87.4 945.3 89.9 946.4 91.2 C947.5 92.5 950.2 93.9 951.0 94.4" fill="none" stroke="#f4f4f4" stroke-width="1.7" stroke-linecap="round"/>
<path d="M888 77.6 C898 75.5 910 73 918.5 69.5 C920 67 920.6 65 921 63 C921.5 67 922.5 71 925 74 C929 78.5 935 82 940.4 84.9" fill="none" stroke="#f4f4f4" stroke-width="1.8" stroke-linecap="round" stroke-linejoin="round"/>
<path d="M918.5 70.8 C916.2 72.2 909.8 76.5 905.0 79.5 C900.2 82.5 892.2 87.5 889.7 89.1" fill="none" stroke="#f4f4f4" stroke-width="1.7" stroke-linecap="round"/>
<text x="873.6" y="107.3" font-family="'Liberation Sans', sans-serif" font-size="11.8" fill="#d9d9d9" textLength="72.4" lengthAdjust="spacingAndGlyphs">WWW.QHP.NL</text>
</svg>
</body></html>
